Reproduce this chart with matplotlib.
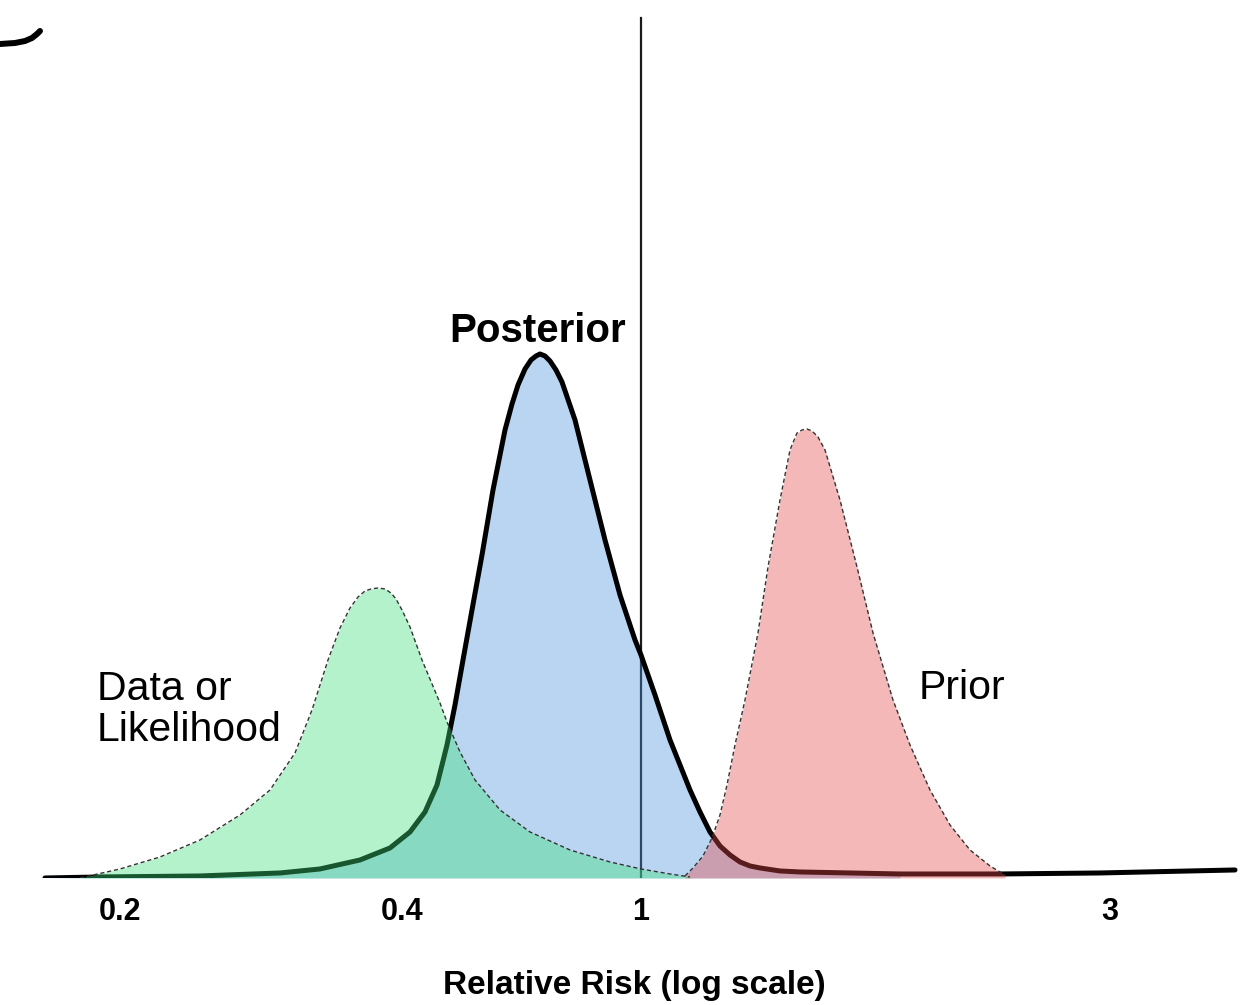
import numpy as np
import matplotlib.pyplot as plt

plt.rcParams['font.family'] = ['Liberation Sans', 'DejaVu Sans']

# tick positions along the horizontal axis and their labels
tick_pos = [120, 402, 641, 1110]
tick_labels = ['0.2', '0.4', '1', '3']

# posterior curve (position, relative height)
post_x = [45, 100, 200, 280, 320, 360, 390, 410, 425, 437, 447, 455, 463, 472,
          482, 493, 505, 512, 518, 525, 531, 536, 540, 545, 550, 556, 562, 575,
          590, 605, 620, 635, 641, 655, 670, 690, 700, 710, 720, 730, 740, 750,
          760, 780, 800, 900, 1000, 1100, 1235]
post_y = [0.00, 0.01, 0.02, 0.05, 0.09, 0.18, 0.30, 0.46, 0.66, 0.93, 1.33,
          1.73, 2.18, 2.68, 3.23, 3.88, 4.48, 4.74, 4.93, 5.09, 5.18, 5.22,
          5.24, 5.22, 5.17, 5.08, 4.96, 4.58, 3.98, 3.38, 2.83, 2.38, 2.23,
          1.83, 1.38, 0.88, 0.66, 0.46, 0.32, 0.23, 0.16, 0.12, 0.10, 0.07,
          0.06, 0.04, 0.04, 0.05, 0.08]

# data / likelihood curve
like_x = [80, 120, 160, 200, 240, 270, 295, 312, 328, 340, 350, 358, 365, 371,
          378, 385, 391, 396, 402, 410, 422, 440, 447, 460, 475, 500, 530, 570,
          610, 641, 670, 690]
like_y = [0.00, 0.09, 0.21, 0.38, 0.63, 0.88, 1.25, 1.68, 2.18, 2.50, 2.70,
          2.81, 2.87, 2.89, 2.90, 2.89, 2.85, 2.79, 2.68, 2.51, 2.18, 1.75,
          1.56, 1.26, 0.98, 0.68, 0.46, 0.28, 0.16, 0.09, 0.04, 0.01]

# prior curve
prior_x = [685, 693, 703, 712, 720, 727, 735, 745, 758, 768, 780, 790, 797, 802,
           807, 812, 818, 825, 840, 857, 873, 893, 910, 930, 950, 970, 990, 1005]
prior_y = [0.02, 0.10, 0.22, 0.40, 0.63, 0.93, 1.33, 1.78, 2.45, 3.11, 3.78,
           4.28, 4.45, 4.48, 4.49, 4.47, 4.41, 4.28, 3.78, 3.11, 2.45, 1.78,
           1.33, 0.88, 0.53, 0.28, 0.12, 0.03]

# stray pen stroke in the top-left corner
corner_x = [0, 15, 25, 32, 37, 40]
corner_y = [8.34, 8.35, 8.37, 8.40, 8.44, 8.47]

# faint grey baseline under the filled curves
shadow_x = [75, 895]

fig = plt.figure(figsize=(12.57, 10.05), dpi=100)
ax = fig.add_axes([0, 0.1264, 1, 0.8736])
ax.set_xlim(0, 1257)
ax.set_ylim(0, 8.78)

ax.plot(corner_x, corner_y, color='black', lw=4.3, solid_capstyle='round',
        clip_on=False)

# reference line at relative risk of 1
ax.axvline(tick_pos[2], ymin=0, ymax=8.6 / 8.78, color='#1a1a1a', lw=1.6, zorder=1)
ax.hlines(-0.02, shadow_x[0], shadow_x[1], color='#666666', lw=1.5, zorder=1)

# posterior: filled blue, thick black outline
px = np.array(post_x)
py = np.array(post_y)
ax.fill_between(px, py, 0, where=px <= 900, color=(75/255, 147/255, 219/255),
                alpha=0.39, lw=0, zorder=2)
ax.plot(post_x, post_y, color='black', lw=3.6, solid_capstyle='round',
        solid_joinstyle='round', zorder=3)

# likelihood and prior: translucent fills with dashed outlines
dash = (0, (3, 2))
ax.fill_between(like_x, like_y, 0, color=(60/255, 224/255, 122/255), alpha=0.39,
                lw=0, zorder=4)
ax.plot(like_x, like_y, color='#333333', lw=1.0, ls=dash, zorder=5)
ax.fill_between(prior_x, prior_y, 0, color=(229/255, 73/255, 73/255), alpha=0.39,
                lw=0, zorder=4)
ax.plot(prior_x, prior_y, color='#333333', lw=1.0, ls=dash, zorder=5)

# labels on the curves
ax.text(538, 5.47, 'Posterior', fontsize=29, fontweight='bold', ha='center', va='center')
ax.text(97, 1.68, 'Data or\nLikelihood', fontsize=29.5, ha='left', va='center',
        linespacing=1.1)
ax.text(962, 1.90, 'Prior', fontsize=29.5, ha='center', va='center')

ax.set_xticks(tick_pos)
ax.set_xticklabels(tick_labels, fontsize=22, fontweight='bold')
ax.tick_params(axis='x', length=0, pad=14)
ax.set_yticks([])
for s in ax.spines.values():
    s.set_visible(False)
ax.set_xlabel('Relative Risk (log scale)', fontsize=24, fontweight='bold')
ax.xaxis.set_label_coords(0.505, -0.105)
ax.patch.set_alpha(0)

fig.savefig('out.png', dpi=100)
